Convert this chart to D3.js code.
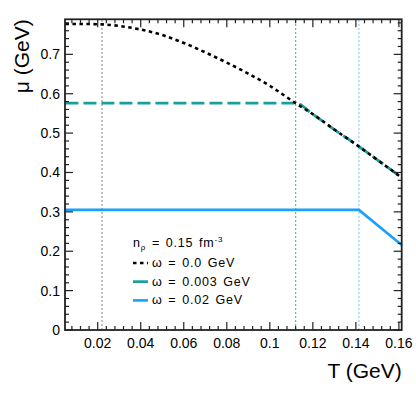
<!DOCTYPE html>
<html>
<head>
<meta charset="utf-8">
<script src="https://cdn.jsdelivr.net/npm/d3@7"></script>
<style>
  body { margin: 0; background: #fff; }
  svg { display: block; font-family: "Liberation Sans", Arial, Helvetica, sans-serif; }
</style>
</head>
<body>
<div id="chart"></div>
<script>
// chemical potential vs temperature
var tBlack  = [0.005, 0.015, 0.0225, 0.03, 0.04, 0.05, 0.06, 0.07, 0.08, 0.09, 0.1, 0.112, 0.12, 0.13, 0.1414, 0.15, 0.1613];
var muBlack = [0.777, 0.777, 0.776, 0.772, 0.763, 0.749, 0.729, 0.705, 0.679, 0.651, 0.620, 0.576, 0.548, 0.509, 0.466, 0.432, 0.387];

var tTeal  = [0.005, 0.112, 0.12, 0.13, 0.1414, 0.15, 0.1613];
var muTeal = [0.576, 0.576, 0.548, 0.509, 0.466, 0.432, 0.387];

var tBlue  = [0.005, 0.1414, 0.1613];
var muBlue = [0.305, 0.305, 0.216];

// vertical marker lines (onset temperatures)
var markerT = [0.022, 0.112, 0.1414];
var markerColors = ["#9a9a9a", "#5bb8b6", "#8fd0ff"];

var legendLabels = ["\u03c9 = 0.0 GeV", "\u03c9 = 0.003 GeV", "\u03c9 = 0.02 GeV"];

var xTicks = [0.02, 0.04, 0.06, 0.08, 0.1, 0.12, 0.14, 0.16];
var yTicks = [0, 0.1, 0.2, 0.3, 0.4, 0.5, 0.6, 0.7];

var width = 416, height = 398;
var margin = {left: 65, right: 14.3, top: 19.3, bottom: 68};

var svg = d3.select("#chart").append("svg")
    .attr("width", width).attr("height", height);

var x = d3.scaleLinear().domain([0.0048, 0.1613]).range([margin.left, width - margin.right]);
var y = d3.scaleLinear().domain([0, 0.789]).range([height - margin.bottom, margin.top]);

var x0 = x.range()[0], x1 = x.range()[1], y0 = y.range()[0], y1 = y.range()[1];

// vertical dotted markers
svg.selectAll(".marker").data(markerT).enter().append("line")
    .attr("x1", function(d){ return x(d); }).attr("x2", function(d){ return x(d); })
    .attr("y1", y0).attr("y2", y1)
    .attr("stroke", function(d, i){ return markerColors[i]; })
    .attr("stroke-width", 1.2)
    .attr("stroke-dasharray", "2,2");

var line = d3.line()
    .x(function(d){ return x(d[0]); })
    .y(function(d){ return y(d[1]); });

var smooth = d3.line()
    .x(function(d){ return x(d[0]); })
    .y(function(d){ return y(d[1]); })
    .curve(d3.curveMonotoneX);

svg.append("path")
    .datum(d3.zip(tBlue, muBlue))
    .attr("d", line)
    .attr("fill", "none").attr("stroke", "#1aa0f8").attr("stroke-width", 2.6);

svg.append("path")
    .datum(d3.zip(tTeal, muTeal))
    .attr("d", smooth)
    .attr("fill", "none").attr("stroke", "#1b9e9c").attr("stroke-width", 2.8)
    .attr("stroke-dasharray", "13,5");

svg.append("path")
    .datum(d3.zip(tBlack, muBlack))
    .attr("d", smooth)
    .attr("fill", "none").attr("stroke", "#000").attr("stroke-width", 2.6)
    .attr("stroke-dasharray", "3.5,3.5");

// frame
svg.append("rect")
    .attr("x", x0).attr("y", y1).attr("width", x1 - x0).attr("height", y0 - y1)
    .attr("fill", "none").attr("stroke", "#222").attr("stroke-width", 1.8);

// ticks, pointing inwards on all four sides
var xMinor = d3.range(0.008, 0.1613, 0.004).filter(function(v){ return Math.abs(v / 0.02 - Math.round(v / 0.02)) > 1e-6; });
var yMinor = d3.range(0.02, 0.789, 0.02).filter(function(v){ return Math.abs(v / 0.1 - Math.round(v / 0.1)) > 1e-6; });

var ticks = svg.append("g").attr("stroke", "#222").attr("stroke-width", 1.2);
function xTickLines(vals, len) {
    vals.forEach(function(v){
        ticks.append("line").attr("x1", x(v)).attr("x2", x(v)).attr("y1", y0).attr("y2", y0 - len);
        ticks.append("line").attr("x1", x(v)).attr("x2", x(v)).attr("y1", y1).attr("y2", y1 + len);
    });
}
function yTickLines(vals, len) {
    vals.forEach(function(v){
        ticks.append("line").attr("x1", x0).attr("x2", x0 + len).attr("y1", y(v)).attr("y2", y(v));
        ticks.append("line").attr("x1", x1).attr("x2", x1 - len).attr("y1", y(v)).attr("y2", y(v));
    });
}
xTickLines(xTicks, 8);
xTickLines(xMinor, 4);
yTickLines(yTicks, 8);
yTickLines(yMinor, 4);

// tick labels
svg.selectAll(".xlab").data(xTicks).enter().append("text")
    .attr("x", function(d){ return x(d); }).attr("y", y0 + 18)
    .attr("text-anchor", "middle").attr("font-size", 14)
    .text(function(d){ return d3.format("~g")(d); });

svg.selectAll(".ylab").data(yTicks).enter().append("text")
    .attr("x", x0 - 5).attr("y", function(d){ return y(d) + 5; })
    .attr("text-anchor", "end").attr("font-size", 14)
    .text(function(d){ return d3.format("~g")(d); });

// axis titles
svg.append("text")
    .attr("x", x1).attr("y", 378)
    .attr("text-anchor", "end").attr("font-size", 21)
    .text("T (GeV)");

svg.append("text")
    .attr("transform", "translate(29," + y1 + ") rotate(-90)")
    .attr("text-anchor", "end").attr("font-size", 21)
    .text("\u03bc (GeV)");

// legend
var lg = svg.append("g").attr("font-size", 12.5).attr("letter-spacing", 0.8).attr("word-spacing", 1.5);
var np = lg.append("text").attr("x", 133).attr("y", 247);
np.append("tspan").text("n");
np.append("tspan").attr("font-size", 8).attr("dy", 3).text("\u03c1");
np.append("tspan").attr("dy", -3).text(" = 0.15 fm");
np.append("tspan").attr("font-size", 8).attr("dy", -5).text("-3");

var legendStyles = [
    {color: "#000", dash: "3.5,3.5", w: 2.6},
    {color: "#1b9e9c", dash: null, w: 2.8},
    {color: "#1aa0f8", dash: null, w: 2.6}
];
legendLabels.forEach(function(lbl, i){
    var yy = 263 + i * 18.7;
    lg.append("line").attr("x1", 133).attr("x2", 148).attr("y1", yy).attr("y2", yy)
        .attr("stroke", legendStyles[i].color).attr("stroke-width", legendStyles[i].w)
        .attr("stroke-dasharray", legendStyles[i].dash);
    lg.append("text").attr("x", 152).attr("y", yy + 4).text(lbl);
});
</script>
</body>
</html>
